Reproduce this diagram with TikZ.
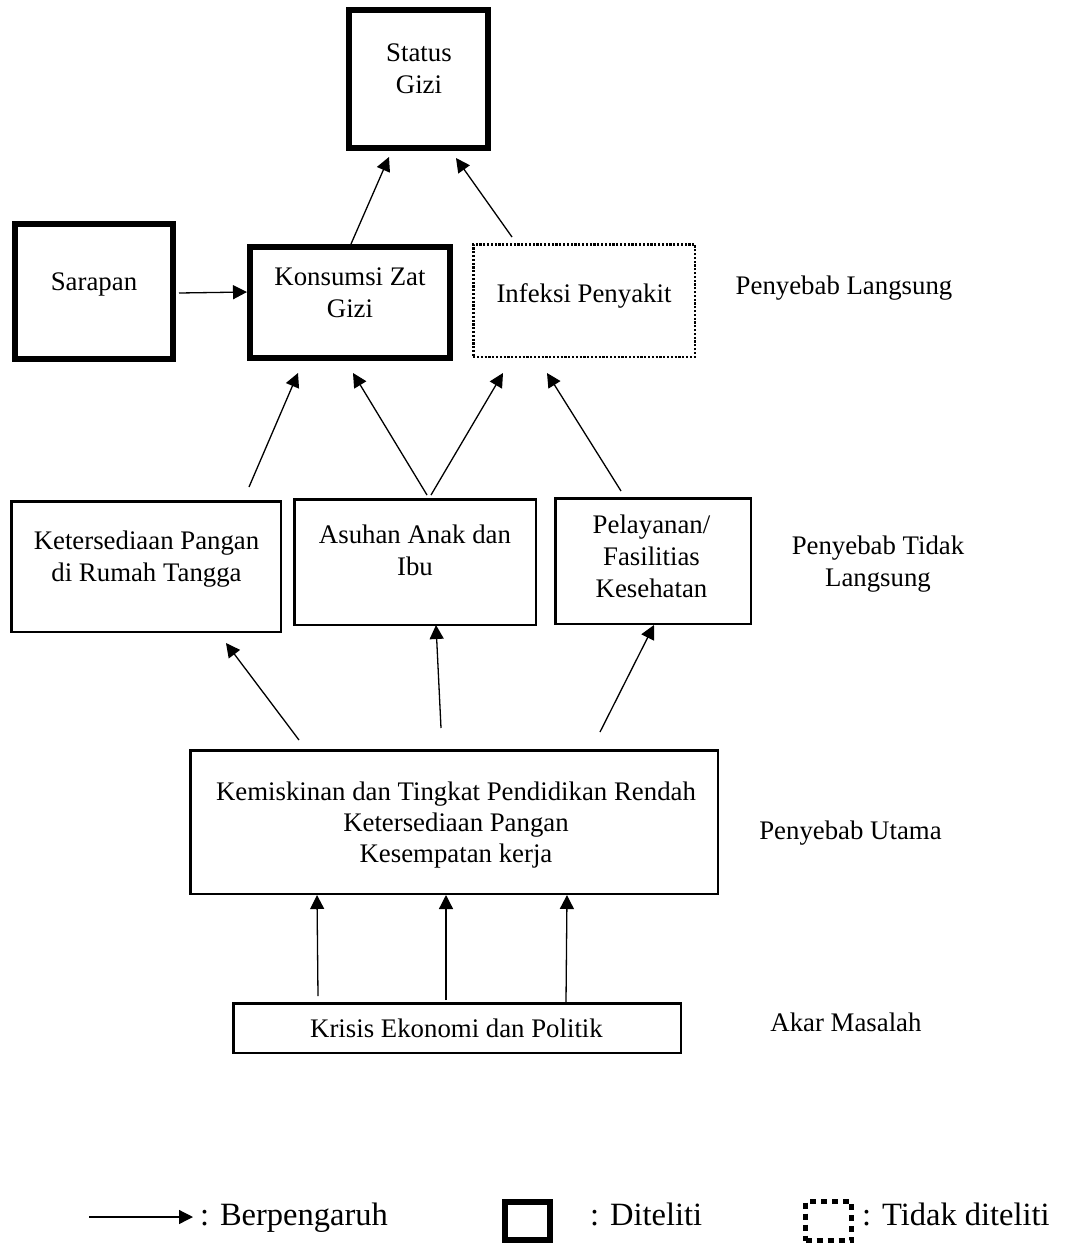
\documentclass[tikz,border=0pt]{standalone}
\usepackage{fontspec}
\setmainfont{Liberation Serif}
\usetikzlibrary{arrows.meta}
\begin{document}
\begin{tikzpicture}[x=1pt,y=-1pt,
  thickbox/.style={draw, line width=6pt, rectangle, inner sep=0pt},
  thinbox/.style={draw, line width=2.5pt, rectangle, inner sep=0pt},
  dotbox/.style={draw, line width=2.5pt, dash pattern=on 2.2pt off 1.6pt, rectangle, inner sep=0pt},
  txt/.style={font=\fontsize{26.8pt}{32pt}\selectfont, align=center, inner sep=0pt},
  legtxt/.style={font=\fontsize{32.5pt}{38pt}\selectfont, inner sep=0pt, anchor=base west},
  arr/.style={line width=1.3pt, -{Triangle[length=14pt,width=14pt]}}
]
\useasboundingbox (0,0) rectangle (1069,1245);

% boxes
\node[thickbox, minimum width=139pt, minimum height=138pt] (status) at (418.5,79) {};
\node[thickbox, minimum width=158pt, minimum height=135pt] (sarapan) at (94,291.5) {};
\node[thickbox, minimum width=200pt, minimum height=111pt] (konsumsi) at (350,302.5) {};
\node[dotbox, minimum width=221.5pt, minimum height=112.5pt] (infeksi) at (584,300.5) {};
\node[thinbox, minimum width=269.5pt, minimum height=130.5pt] (keters) at (146,566.5) {};
\node[thinbox, minimum width=241.5pt, minimum height=125.5pt] (asuhan) at (415,562) {};
\node[thinbox, minimum width=195.5pt, minimum height=125.5pt] (pelayanan) at (653,561) {};
\node[thinbox, minimum width=527.5pt, minimum height=143.5pt] (kemiskinan) at (454,822) {};
\node[thinbox, minimum width=447.5pt, minimum height=49.5pt] (krisis) at (457,1028) {};

% texts
\node[txt] (statusT) at (419,69) {Status\\Gizi};
\node[txt] (sarapanT) at (94,284) {Sarapan};
\node[txt] (konsumsiT) at (350,292.5) {Konsumsi Zat\\Gizi};
\node[txt] (infeksiT) at (584,296) {Infeksi Penyakit};
\node[txt] (lbl1) at (844,288) {Penyebab Langsung};
\node[txt] (ketersT) at (146.5,559) {Ketersediaan Pangan\\di Rumah Tangga};
\node[txt] (asuhanT) at (415,550.5) {Asuhan Anak dan\\Ibu};
\node[txt] (pelayananT) at (651.5,556) {Pelayanan/\\Fasilitias\\Kesehatan};
\node[txt] (lbl2) at (878,564.5) {Penyebab Tidak\\Langsung};
\node[txt, font=\fontsize{26.8pt}{31pt}\selectfont] (kemiskinanT) at (456,825) {Kemiskinan dan Tingkat Pendidikan Rendah\\Ketersediaan Pangan\\Kesempatan kerja};
\node[txt] (lbl3) at (850.5,833) {Penyebab Utama};
\node[txt] (krisisT) at (456.5,1028) {Krisis Ekonomi dan Politik};
\node[txt] (lbl4) at (846,1022) {Akar Masalah};

% arrows
\draw[arr] ([xshift=1pt]konsumsi.north) -- ([xshift=-29.5pt,yshift=-6pt]status.south);
\draw[arr] ([xshift=-72pt,yshift=6pt]infeksi.north) -- ([xshift=37.5pt,yshift=-7pt]status.south);
\draw[arr] ([xshift=3pt,yshift=-1.5pt]sarapan.east) -- ([yshift=10.5pt]konsumsi.west);
\draw[arr] ([xshift=103pt,yshift=13pt]keters.north) -- ([xshift=-52pt,yshift=-12pt]konsumsi.south);
\draw[arr] ([xshift=12pt,yshift=3pt]asuhan.north) -- ([xshift=3pt,yshift=-12pt]konsumsi.south);
\draw[arr] ([xshift=16pt,yshift=3pt]asuhan.north) -- ([xshift=-81pt,yshift=-15pt]infeksi.south);
\draw[arr] ([xshift=-32pt,yshift=6pt]pelayanan.north) -- ([xshift=-37pt,yshift=-15pt]infeksi.south);
\draw[arr] ([xshift=-155pt,yshift=9pt]kemiskinan.north) -- ([xshift=80pt,yshift=-10pt]keters.south);
\draw[arr] ([xshift=-13pt,yshift=21pt]kemiskinan.north) -- ([xshift=21pt,yshift=1pt]asuhan.south);
\draw[arr] ([xshift=146pt,yshift=17pt]kemiskinan.north) -- ([xshift=1pt]pelayanan.south);
\draw[arr] ([xshift=-139pt,yshift=6pt]krisis.north) -- ([xshift=-137pt]kemiskinan.south);
\draw[arr] ([xshift=-11pt,yshift=2pt]krisis.north) -- ([xshift=-8pt]kemiskinan.south);
\draw[arr] ([xshift=109pt]krisis.north) -- ([xshift=113pt]kemiskinan.south);

% legend
\coordinate (legA) at (89,1217);
\coordinate (legB) at (193,1217);
\draw[arr] (legA) -- (legB);
\node[legtxt] (legT1) at (200,1225) {: Berpengaruh};
\node[draw, line width=6pt, minimum width=45pt, minimum height=38pt, inner sep=0pt] (legSq) at (527.5,1221) {};
\node[legtxt] (legT2) at (590,1225) {: Diteliti};
\node[draw, line width=5pt, dash pattern=on 6pt off 5pt, minimum width=46pt, minimum height=39pt, inner sep=0pt] (legDot) at (828.5,1221) {};
\node[legtxt] (legT3) at (862,1225) {: Tidak diteliti};
\end{tikzpicture}
\end{document}
